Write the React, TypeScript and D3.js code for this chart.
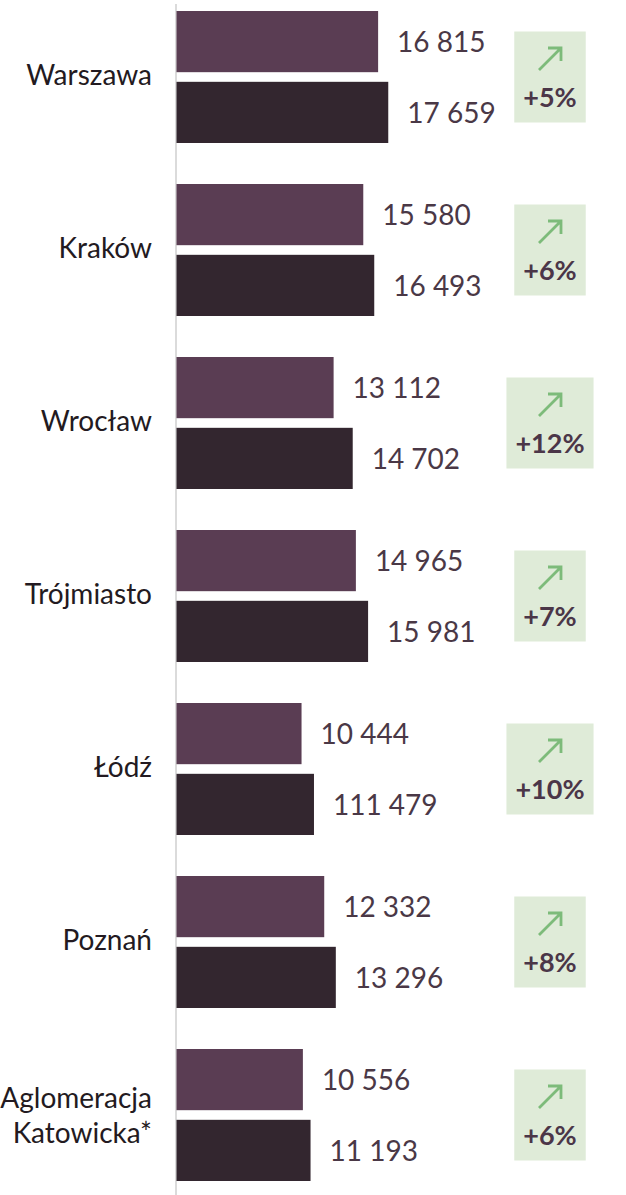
import React, { useEffect, useRef } from "react";
import * as d3 from "d3";

const cities = ["Warszawa", "Kraków", "Wrocław", "Trójmiasto", "Łódź", "Poznań", "Aglomeracja Katowicka*"];
const cityLines = [["Warszawa"], ["Kraków"], ["Wrocław"], ["Trójmiasto"], ["Łódź"], ["Poznań"], ["Aglomeracja", "Katowicka*"]];
const prevValues = [16815, 15580, 13112, 14965, 10444, 12332, 10556];
const currValues = [17659, 16493, 14702, 15981, 11479, 13296, 11193];
const prevLabels = ["16 815", "15 580", "13 112", "14 965", "10 444", "12 332", "10 556"];
const currLabels = ["17 659", "16 493", "14 702", "15 981", "111 479", "13 296", "11 193"];
const changePct = [5, 6, 12, 7, 10, 8, 6];
const seriesKeys = ["prev", "curr"];

const W = 626;
const H = 1195;

export default function App() {
  const ref = useRef<SVGSVGElement>(null);

  useEffect(() => {
    const svg = d3.select(ref.current);
    svg.selectAll("*").remove();

    const x = d3.scaleLinear().domain([0, 20000]).range([176, 416.4]);
    const y = d3.scaleBand<string>().domain(cities).range([-9.5, 1201.5]).paddingInner(0.237).paddingOuter(0.1185);
    const ySub = d3.scaleBand<string>().domain(seriesKeys).range([0, y.bandwidth()]).paddingInner(0.136);
    const colors: Record<string, string> = { prev: "#5a3d53", curr: "#33262f" };

    svg.append("line")
      .attr("x1", x(0)).attr("x2", x(0))
      .attr("y1", 4).attr("y2", H)
      .attr("stroke", "#cfcfcf").attr("stroke-width", 1.5);

    const g = svg.selectAll("g.city").data(cities).enter().append("g")
      .attr("class", "city")
      .attr("transform", (d) => `translate(0,${y(d)})`);

    g.each(function (city, i) {
      const grp = d3.select(this);
      const vals = [prevValues[i], currValues[i]];
      const labels = [prevLabels[i], currLabels[i]];
      seriesKeys.forEach((k, j) => {
        grp.append("rect")
          .attr("x", x(0) + 0.5)
          .attr("y", ySub(k)!)
          .attr("width", x(vals[j]) - x(0) - 0.5)
          .attr("height", ySub.bandwidth())
          .attr("fill", colors[k]);
        grp.append("text")
          .attr("x", x(vals[j]) + 19)
          .attr("y", ySub(k)! + ySub.bandwidth() / 2 + 10.5)
          .attr("font-family", "Lato")
          .attr("font-weight", 400)
          .attr("font-size", 28)
          .attr("fill", "#4a3846")
          .text(labels[j]);
      });

      const cy = y.bandwidth() / 2;
      const lines = cityLines[i];
      const t = grp.append("text")
        .attr("text-anchor", "end")
        .attr("font-family", "Lato")
        .attr("font-size", 28)
        .attr("fill", "#231a21");
      if (lines.length === 1) {
        t.append("tspan").attr("x", 152).attr("y", cy + 8.5).text(lines[0]);
      } else {
        lines.forEach((ln, li) => {
          t.append("tspan").attr("x", 152).attr("y", cy - 7 + li * 35).text(ln);
        });
      }

      const cx = 550;
      const pt = grp.append("text")
        .attr("x", cx)
        .attr("y", cy + 30)
        .attr("text-anchor", "middle")
        .attr("font-family", "Lato")
        .attr("font-weight", 700)
        .attr("font-size", 27)
        .attr("fill", "#4b3648")
        .text(`+${changePct[i]}%`);
      const tw = (pt.node() as SVGTextElement).getComputedTextLength();
      const bw = tw + 18;
      grp.insert("rect", () => pt.node() as any)
        .attr("x", cx - bw / 2)
        .attr("y", cy - 45.5)
        .attr("width", bw)
        .attr("height", 91)
        .attr("fill", "#dfebd8");
      const ax0 = cx - 11, ay0 = cy - 7, ax1 = cx + 11, ay1 = cy - 29;
      grp.append("path")
        .attr("d", `M${ax0},${ay0}L${ax1},${ay1}M${ax1 - 13},${ay1}L${ax1},${ay1}L${ax1},${ay1 + 13}`)
        .attr("fill", "none")
        .attr("stroke", "#7dbb7a")
        .attr("stroke-width", 2.8);
    });
  }, []);

  return (
    <div style={{ position: "absolute", left: 0, top: 0, width: W, height: H, background: "#fff" }}>
      <svg ref={ref} width={W} height={H} style={{ display: "block" }} />
    </div>
  );
}
